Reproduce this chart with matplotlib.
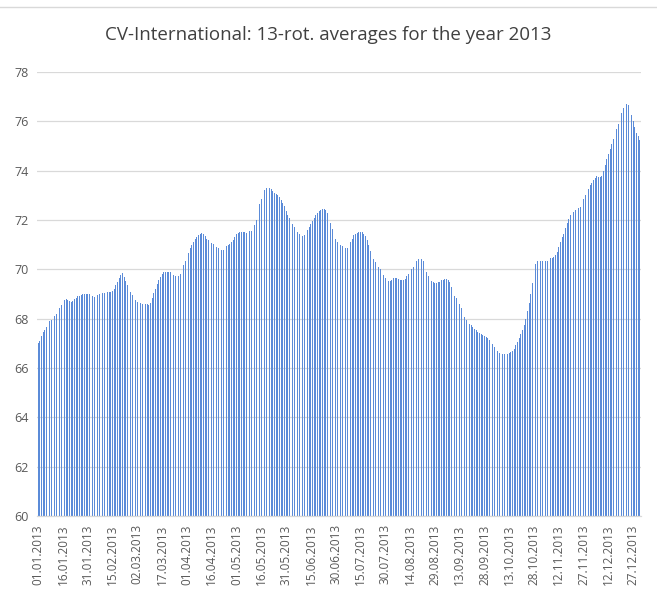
import matplotlib
matplotlib.use("Agg")
import matplotlib.pyplot as plt
import pandas as pd

title = "CV-International: 13-rot. averages for the year 2013"

jan = [67.00, 67.10, 67.30, 67.45, 67.55, 67.65, 67.80, 67.90, 67.95, 68.02,
       68.10, 68.20, 68.32, 68.45, 68.55, 68.65, 68.75, 68.78, 68.75, 68.70,
       68.68, 68.70, 68.78, 68.85, 68.90, 68.92, 68.97, 69.00, 69.00, 68.98, 69.00]
feb = [69.00, 68.95, 68.90, 68.88, 68.90, 68.97, 69.00, 69.02, 69.05, 69.05,
       69.05, 69.08, 69.10, 69.10, 69.12, 69.20, 69.35, 69.50, 69.65, 69.78,
       69.84, 69.70, 69.53, 69.38, 69.22, 69.08, 68.95, 68.85]
mar = [68.75, 68.68, 68.65, 68.62, 68.60, 68.60, 68.58, 68.58, 68.57, 68.65,
       68.85, 69.05, 69.22, 69.40, 69.55, 69.68, 69.80, 69.88, 69.90, 69.90,
       69.89, 69.88, 69.84, 69.78, 69.72, 69.68, 69.72, 69.82, 69.98, 70.18, 70.35]
apr = [70.50, 70.68, 70.85, 70.98, 71.10, 71.22, 71.33, 71.40, 71.45, 71.47,
       71.42, 71.35, 71.25, 71.17, 71.12, 71.07, 71.03, 70.98, 70.92, 70.87,
       70.82, 70.78, 70.77, 70.85, 70.93, 70.98, 71.03, 71.10, 71.20, 71.30]
may = [71.42, 71.48, 71.52, 71.53, 71.52, 71.50, 71.49, 71.52, 71.54, 71.56,
       71.65, 71.78, 72.00, 72.35, 72.65, 72.85, 73.05, 73.20, 73.28, 73.33,
       73.30, 73.25, 73.18, 73.10, 73.05, 73.00, 72.92, 72.80, 72.68, 72.55, 72.38]
jun = [72.22, 72.08, 71.95, 71.82, 71.70, 71.60, 71.52, 71.45, 71.38, 71.37,
       71.40, 71.48, 71.58, 71.70, 71.82, 71.95, 72.10, 72.20, 72.30, 72.37,
       72.42, 72.44, 72.45, 72.42, 72.28, 72.10, 71.88, 71.65, 71.45, 71.25]
jul = [71.10, 71.02, 70.98, 70.95, 70.90, 70.85, 70.86, 70.95, 71.10, 71.25,
       71.38, 71.45, 71.48, 71.52, 71.53, 71.50, 71.44, 71.35, 71.20, 70.98,
       70.75, 70.55, 70.40, 70.28, 70.17, 70.08, 70.00, 69.88, 69.77, 69.65, 69.53]
aug = [69.52, 69.53, 69.58, 69.63, 69.64, 69.63, 69.60, 69.56, 69.55, 69.56,
       69.62, 69.72, 69.82, 69.92, 70.00, 70.08, 70.20, 70.35, 70.42, 70.44,
       70.42, 70.33, 70.12, 69.88, 69.72, 69.60, 69.52, 69.47, 69.44, 69.44, 69.47]
sep = [69.50, 69.55, 69.57, 69.60, 69.60, 69.57, 69.50, 69.30, 69.10, 68.93,
       68.82, 68.72, 68.58, 68.44, 68.25, 68.07, 67.95, 67.87, 67.80, 67.73,
       67.66, 67.60, 67.54, 67.47, 67.41, 67.36, 67.33, 67.31, 67.25, 67.20]
oct_ = [67.13, 67.07, 66.97, 66.87, 66.77, 66.67, 66.62, 66.57, 66.57, 66.56,
        66.57, 66.57, 66.60, 66.63, 66.70, 66.78, 66.92, 67.07, 67.22, 67.37,
        67.55, 67.73, 68.00, 68.30, 68.65, 69.00, 69.45, 69.85, 70.20, 70.33, 70.37]
nov = [70.35, 70.33, 70.33, 70.33, 70.35, 70.42, 70.45, 70.47, 70.50, 70.58,
       70.72, 70.89, 71.10, 71.30, 71.45, 71.68, 71.87, 72.05, 72.20, 72.28,
       72.33, 72.40, 72.47, 72.50, 72.51, 72.70, 72.87, 73.00, 73.13, 73.27]
dec = [73.40, 73.52, 73.64, 73.72, 73.77, 73.75, 73.73, 73.80, 74.00, 74.25,
       74.47, 74.68, 74.87, 75.08, 75.29, 75.48, 75.67, 75.90, 76.13, 76.35,
       76.53, 76.65, 76.71, 76.65, 76.47, 76.25, 76.00, 75.78, 75.53, 75.40, 75.24]

tick_labels = ["01.01.2013", "16.01.2013", "31.01.2013", "15.02.2013", "02.03.2013",
               "17.03.2013", "01.04.2013", "16.04.2013", "01.05.2013", "16.05.2013",
               "31.05.2013", "15.06.2013", "30.06.2013", "15.07.2013", "30.07.2013",
               "14.08.2013", "29.08.2013", "13.09.2013", "28.09.2013", "13.10.2013",
               "28.10.2013", "12.11.2013", "27.11.2013", "12.12.2013", "27.12.2013"]
y_ticks = [60, 62, 64, 66, 68, 70, 72, 74, 76, 78]

values = jan + feb + mar + apr + may + jun + jul + aug + sep + oct_ + nov + dec
dates = [d.strftime("%d.%m.%Y") for d in pd.date_range("2013-01-01", "2013-12-31")]
x = list(range(len(values)))
tick_pos = [dates.index(t) for t in tick_labels]

plt.rcParams['font.family'] = ['Open Sans', 'DejaVu Sans']

fig = plt.figure(figsize=(6.57, 5.94), dpi=100)
ax = fig.add_axes([37/657, 1-516/594, 604/657, 444/594])

ax.bar(x, values, width=0.5, color="#5B8BD8", linewidth=0, zorder=2)
ax.set_xlim(-0.7, len(values) - 0.3)
ax.set_ylim(60, 78)
ax.set_yticks(y_ticks)
ax.set_yticklabels([str(v) for v in y_ticks], fontsize=9, color="#595959")
ax.set_xticks(tick_pos)
ax.set_xticklabels(tick_labels, rotation=90, fontsize=8.5, color="#595959")
ax.tick_params(length=0, pad=6)
ax.grid(axis="y", color="#D9D9D9", linewidth=0.9, zorder=0)
ax.set_axisbelow(True)
for s in ["top", "right", "left"]:
    ax.spines[s].set_visible(False)
ax.spines["bottom"].set_color("#D9D9D9")
ax.spines["bottom"].set_linewidth(0.9)

fig.text(0.5, 1-35/594, title, ha="center", va="center", fontsize=13.5, color="#404040")
fig.add_artist(plt.Line2D([0, 1], [1-7/594, 1-7/594], color="#D9D9D9", linewidth=1, transform=fig.transFigure))

fig.savefig("out.png", dpi=100)
